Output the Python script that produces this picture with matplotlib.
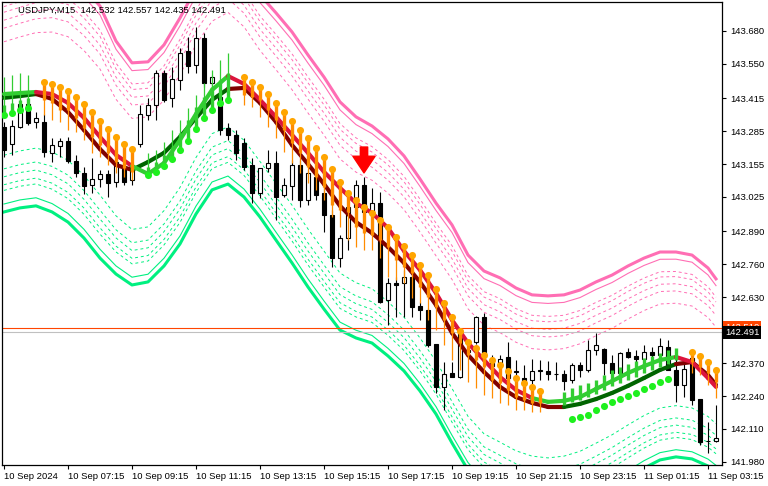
import numpy as np
import matplotlib
matplotlib.use('Agg')
import matplotlib.pyplot as plt
from matplotlib.collections import LineCollection
from matplotlib.transforms import blended_transform_factory

plt.rcParams['font.family'] = ['Liberation Sans', 'DejaVu Sans']

# USDJPY M15, one bar every 15 minutes starting 10 Sep 05:15
opens = [143.301, 143.234, 143.301, 143.392, 143.321, 143.321, 143.199, 143.226, 143.246, 143.167,
         143.120, 143.072, 143.096, 143.116, 143.084, 143.147, 143.092, 143.234, 143.348, 143.388,
         143.514, 143.416, 143.486, 143.601, 143.546, 143.652, 143.475, 143.419, 143.297, 143.270,
         143.238, 143.151, 143.041, 143.139, 143.159, 143.033, 143.068, 143.151, 143.013, 143.104,
         143.041, 142.954, 142.784, 142.863, 142.986, 143.072, 142.966, 143.001, 142.619, 142.686,
         142.686, 142.710, 142.595, 142.579, 142.445, 142.276, 142.331, 142.315, 142.422, 142.453,
         142.552, 142.374, 142.370, 142.394, 142.335, 142.311, 142.303, 142.339, 142.339, 142.327,
         142.327, 142.303, 142.363, 142.343, 142.422, 142.426, 142.370, 142.331, 142.414, 142.398,
         142.386, 142.414, 142.402, 142.434, 142.343, 142.284, 142.390, 142.228, 142.063, 142.063]
highs = [143.321, 143.329, 143.408, 143.400, 143.360, 143.352, 143.258, 143.258, 143.262, 143.191,
         143.143, 143.179, 143.132, 143.132, 143.199, 143.171, 143.210, 143.388, 143.416, 143.526,
         143.526, 143.538, 143.613, 143.656, 143.696, 143.672, 143.506, 143.475, 143.317, 143.289,
         143.258, 143.179, 143.139, 143.210, 143.206, 143.100, 143.171, 143.171, 143.132, 143.124,
         143.080, 142.974, 142.875, 143.025, 143.092, 143.104, 143.061, 143.045, 142.706, 142.710,
         142.737, 142.737, 142.611, 142.587, 142.445, 142.374, 142.374, 142.489, 142.441, 142.556,
         142.568, 142.402, 142.402, 142.453, 142.382, 142.362, 142.386, 142.382, 142.378, 142.374,
         142.343, 142.370, 142.374, 142.461, 142.489, 142.430, 142.402, 142.414, 142.430, 142.422,
         142.441, 142.434, 142.469, 142.461, 142.390, 142.390, 142.390, 142.228, 142.138, 142.205]
lows = [143.183, 143.191, 143.297, 143.309, 143.297, 143.183, 143.163, 143.183, 143.159, 143.104,
        143.037, 143.041, 143.064, 143.025, 143.064, 143.072, 143.072, 143.222, 143.329, 143.329,
        143.400, 143.380, 143.447, 143.514, 143.514, 143.459, 143.447, 143.270, 143.250, 143.171,
        143.132, 143.001, 143.021, 143.124, 142.934, 143.025, 143.013, 142.986, 142.993, 143.013,
        142.887, 142.749, 142.749, 142.816, 142.954, 142.966, 142.954, 142.607, 142.520, 142.552,
        142.552, 142.552, 142.540, 142.433, 142.252, 142.185, 142.315, 142.311, 142.390, 142.445,
        142.382, 142.335, 142.315, 142.291, 142.284, 142.272, 142.256, 142.303, 142.303, 142.303,
        142.264, 142.291, 142.315, 142.335, 142.402, 142.323, 142.295, 142.323, 142.390, 142.355,
        142.374, 142.390, 142.390, 142.343, 142.217, 142.236, 142.205, 142.047, 142.016, 142.059]
closes = [143.210, 143.305, 143.392, 143.317, 143.337, 143.203, 143.230, 143.246, 143.167, 143.120,
          143.068, 143.096, 143.116, 143.080, 143.163, 143.084, 143.151, 143.352, 143.388, 143.514,
          143.408, 143.490, 143.593, 143.542, 143.652, 143.475, 143.498, 143.289, 143.270, 143.199,
          143.143, 143.041, 143.139, 143.159, 143.025, 143.072, 143.151, 143.013, 143.120, 143.033,
          142.954, 142.784, 142.863, 142.986, 143.072, 142.966, 143.001, 142.611, 142.686, 142.678,
          142.710, 142.591, 142.579, 142.441, 142.276, 142.327, 142.315, 142.489, 142.414, 142.552,
          142.394, 142.358, 142.386, 142.311, 142.339, 142.299, 142.339, 142.343, 142.327, 142.327,
          142.299, 142.363, 142.343, 142.422, 142.441, 142.370, 142.331, 142.410, 142.394, 142.386,
          142.414, 142.402, 142.437, 142.343, 142.284, 142.347, 142.224, 142.059, 142.063, 142.075]

# two trend lines and the envelope, read every 2nd bar (+ last bar)
line_bars = list(range(0, 89, 2)) + [89]
fast_line = [143.431, 143.435, 143.439, 143.431, 143.396, 143.337, 143.262, 143.191, 143.147, 143.116,
             143.159, 143.250, 143.352, 143.447, 143.502, 143.471, 143.408, 143.341, 143.270, 143.199,
             143.124, 143.061, 143.001, 142.962, 142.903, 142.812, 142.737, 142.646, 142.540, 142.449,
             142.382, 142.315, 142.264, 142.232, 142.217, 142.221, 142.236, 142.268, 142.299, 142.331,
             142.358, 142.382, 142.394, 142.374, 142.311, 142.276]
slow_line = [143.416, 143.423, 143.431, 143.412, 143.360, 143.289, 143.214, 143.151, 143.132, 143.163,
             143.199, 143.262, 143.337, 143.408, 143.451, 143.455, 143.396, 143.321, 143.230, 143.155,
             143.076, 142.990, 142.926, 142.883, 142.828, 142.765, 142.690, 142.599, 142.489, 142.402,
             142.335, 142.276, 142.236, 142.213, 142.197, 142.197, 142.209, 142.228, 142.252, 142.280,
             142.311, 142.343, 142.366, 142.374, 142.323, 142.284]
fast_up = [(0, 4), (16, 28), (66, 84)]
slow_up = [(0, 4), (16, 28), (70, 84)]

band_top = [143.861, 143.881, 143.901, 143.912, 143.901, 143.849, 143.778, 143.640, 143.554, 143.558,
            143.625, 143.731, 143.849, 143.940, 143.979, 143.920, 143.822, 143.751, 143.676, 143.585,
            143.498, 143.400, 143.341, 143.305, 143.254, 143.187, 143.096, 143.001, 142.915, 142.796,
            142.733, 142.706, 142.666, 142.639, 142.635, 142.639, 142.658, 142.690, 142.717, 142.753,
            142.784, 142.808, 142.808, 142.796, 142.745, 142.702]
band_bottom = [142.966, 142.982, 142.990, 142.966, 142.926, 142.863, 142.784, 142.721, 142.678, 142.690,
               142.753, 142.840, 142.958, 143.053, 143.076, 143.025, 142.946, 142.855, 142.765, 142.670,
               142.583, 142.500, 142.469, 142.449, 142.398, 142.339, 142.260, 142.169, 142.055, 141.948,
               141.877, 141.842, 141.810, 141.791, 141.783, 141.791, 141.810, 141.842, 141.877, 141.917,
               141.956, 141.988, 142.000, 141.992, 141.964, 141.940]
band_levels = [1.0, 0.93, 0.81, 0.76, 0.69, 0.62, 0.5]

# sell signal: dots, histogram body end and wick end
sell_bars = list(range(5, 17)) + list(range(30, 68)) + list(range(86, 90))
sell_dots = [143.479, 143.471, 143.459, 143.443, 143.419, 143.392, 143.360, 143.325, 143.293, 143.262, 143.234, 143.214,
             143.498, 143.479, 143.459, 143.431, 143.396, 143.360, 143.325, 143.289, 143.258, 143.218, 143.183, 143.135,
             143.084, 143.041, 143.013, 142.986, 142.962, 142.934, 142.907, 142.867, 142.832, 142.796, 142.757, 142.717,
             142.662, 142.607, 142.552, 142.497, 142.453, 142.430, 142.402, 142.382, 142.362, 142.339, 142.311, 142.291,
             142.276, 142.260,
             142.414, 142.398, 142.374, 142.343]
sell_body = [143.408, 143.396, 143.368, 143.368, 143.337, 143.297, 143.262, 143.230, 143.199, 143.163, 143.139, 143.124,
             143.427, 143.419, 143.408, 143.368, 143.329, 143.289, 143.238, 143.199, 143.143, 143.104, 143.064, 142.993,
             142.974, 142.966, 142.907, 142.883, 142.875, 142.855, 142.828, 142.777, 142.749, 142.725, 142.670, 142.631,
             142.591, 142.540, 142.489, 142.449, 142.402, 142.382, 142.355, 142.303, 142.291, 142.264, 142.236, 142.224,
             142.213, 142.213,
             142.374, 142.355, 142.331, 142.295]
sell_wick = [143.348, 143.329, 143.321, 143.289, 143.281, 143.250, 143.199, 143.183, 143.151, 143.120, 143.104, 143.092,
             143.388, 143.380, 143.341, 143.301, 143.258, 143.203, 143.159, 143.120, 143.080, 143.053, 143.013, 142.946,
             142.907, 142.855, 142.828, 142.816, 142.816, 142.784, 142.710, 142.698, 142.686, 142.627, 142.607, 142.540,
             142.500, 142.441, 142.382, 142.343, 142.295, 142.272, 142.244, 142.232, 142.213, 142.205, 142.185, 142.185,
             142.177, 142.177,
             142.331, 142.323, 142.284, 142.232]

# buy signal
buy_bars = list(range(0, 4)) + list(range(18, 29))
buy_dots = [143.348, 143.356, 143.368, 143.376, 143.112, 143.124, 143.147, 143.175, 143.210, 143.246, 143.293,
            143.337, 143.368, 143.396, 143.408]
buy_body = [143.388, 143.396, 143.408, 143.416, 143.143, 143.163, 143.191, 143.222, 143.277, 143.329, 143.380,
            143.419, 143.459, 143.486, 143.514]
buy_wick = [143.498, 143.506, 143.514, 143.506, 143.199, 143.210, 143.242, 143.289, 143.329, 143.376, 143.427,
            143.475, 143.526, 143.565, 143.593]
buy_bars2 = list(range(71, 84))
buy_dots2 = [142.150, 142.157, 142.165, 142.185, 142.201, 142.217, 142.228, 142.240, 142.252, 142.268, 142.280,
             142.295, 142.307]
hist_bars2 = list(range(70, 85))
hist_low2 = [142.205, 142.217, 142.224, 142.236, 142.248, 142.264, 142.280, 142.291, 142.303, 142.315, 142.331,
             142.343, 142.355, 142.366, 142.382]
hist_high2 = [142.256, 142.272, 142.284, 142.291, 142.303, 142.323, 142.343, 142.355, 142.366, 142.378, 142.390,
              142.398, 142.410, 142.422, 142.430]

arrow_bar = 45
arrow_top, arrow_tip = 143.222, 143.120
ask_price, bid_price = 142.510, 142.491
header = 'USDJPY,M15  142.532 142.557 142.435 142.491'

price_ticks = [143.680, 143.550, 143.415, 143.285, 143.155, 143.025, 142.890, 142.760, 142.630,
               142.370, 142.240, 142.110, 141.980]
time_tick_bars = list(range(0, 89, 8))
time_tick_labels = ['10 Sep 2024', '10 Sep 07:15', '10 Sep 09:15', '10 Sep 11:15', '10 Sep 13:15',
                    '10 Sep 15:15', '10 Sep 17:15', '10 Sep 19:15', '10 Sep 21:15', '10 Sep 23:15',
                    '11 Sep 01:15', '11 Sep 03:15']

fig = plt.figure(figsize=(7.68, 4.86), dpi=100)
ax = fig.add_axes([2 / 768, 21 / 486, 720 / 768, 463 / 486])

# envelope bands
top = np.array(band_top)
bot = np.array(band_bottom)
mid = (top + bot) / 2
half = (top - bot) / 2
for k in band_levels:
    if k == 1.0:
        lw, ls = 2.2, '-'
    elif k > 0.9:
        lw, ls = 0.8, '-'
    else:
        lw, ls = 0.7, (0, (3, 3))
    ax.plot(line_bars, mid + k * half, color='#FF6EB4', lw=lw, ls=ls, zorder=1)
    ax.plot(line_bars, mid - k * half, color='#00F080', lw=lw, ls=ls, zorder=1)

# candles
o = np.array(opens)
c = np.array(closes)
x = np.arange(len(o))
bull = c >= o
ax.vlines(x, lows, highs, color='black', lw=0.8, zorder=2)
lo = np.minimum(o, c)
h = np.maximum(np.abs(c - o), 0.0015)
ax.bar(x[bull], h[bull], bottom=lo[bull], width=0.6, color='white', edgecolor='black', lw=0.8, zorder=3)
ax.bar(x[~bull], h[~bull], bottom=lo[~bull], width=0.6, color='black', edgecolor='black', lw=0.8, zorder=3)


def trend_line(values, up_ranges, up_color, down_color, width):
    pts = np.column_stack([line_bars, values])
    segs = np.stack([pts[:-1], pts[1:]], axis=1)
    cols = []
    for a, b in zip(line_bars[:-1], line_bars[1:]):
        is_up = any(s <= a and b <= e for s, e in up_ranges)
        cols.append(up_color if is_up else down_color)
    ax.add_collection(LineCollection(segs, colors=cols, linewidths=width, zorder=4, capstyle='round'))


trend_line(slow_line, slow_up, '#006400', '#800000', 3.0)
trend_line(fast_line, fast_up, '#32CD32', '#DC143C', 3.0)

# histogram bars and dots
ax.vlines(sell_bars, sell_dots, sell_wick, color='#FF8C00', lw=0.9, zorder=5)
ax.vlines(sell_bars, sell_dots, sell_body, color='#FF8C00', lw=2.4, zorder=5)
ax.vlines(buy_bars, buy_dots, buy_wick, color='#32CD32', lw=0.9, zorder=5)
ax.vlines(buy_bars, buy_dots, buy_body, color='#32CD32', lw=2.4, zorder=5)
ax.vlines(hist_bars2, hist_low2, hist_high2, color='#32CD32', lw=2.4, zorder=5)
ax.scatter(sell_bars, sell_dots, s=26, color='#FFA500', linewidths=0, zorder=6)
ax.scatter(buy_bars + buy_bars2, buy_dots + buy_dots2, s=26, color='#1EF01E', linewidths=0, zorder=6)

# signal arrow
ax.annotate('', xy=(arrow_bar, arrow_tip), xytext=(arrow_bar, arrow_top),
            arrowprops=dict(arrowstyle='simple,head_length=0.75,head_width=1.0,tail_width=0.33',
                            color='#FF0000', shrinkA=0, shrinkB=0, mutation_scale=16), zorder=7)

# bid / ask lines
ax.axhline(ask_price, color='#FF4500', lw=0.8, zorder=1.5)
ax.axhline(bid_price, color='#C0C0C0', lw=0.8, zorder=1.5)

ax.set_xlim(-0.25, 89.75)
ax.set_ylim(141.968, 143.794)

ax.yaxis.tick_right()
ax.set_yticks(price_ticks)
ax.set_yticklabels(['%.3f' % p for p in price_ticks])
ax.set_xticks(time_tick_bars)
ax.set_xticklabels(time_tick_labels, ha='left')
ax.tick_params(axis='both', length=3, width=0.8, color='black', labelsize=6.8, pad=2)
ax.tick_params(axis='y', pad=3)
for s in ax.spines.values():
    s.set_linewidth(0.9)

trans = blended_transform_factory(ax.transAxes, ax.transData)
ax.text(1.004, ask_price, '%.3f' % ask_price, transform=trans, ha='left', va='center', fontsize=6.8,
        color='white', bbox=dict(boxstyle='square,pad=0.2', fc='#FF4500', ec='none'), zorder=8, clip_on=False)
ax.text(1.004, bid_price, '%.3f' % bid_price, transform=trans, ha='left', va='center', fontsize=6.8,
        color='white', bbox=dict(boxstyle='square,pad=0.2', fc='black', ec='none'), zorder=9, clip_on=False)

fig.text(18 / 768, 1 - 10 / 486, header, fontsize=6.8, ha='left', va='center', color='black')

fig.savefig('out.png', dpi=100)
